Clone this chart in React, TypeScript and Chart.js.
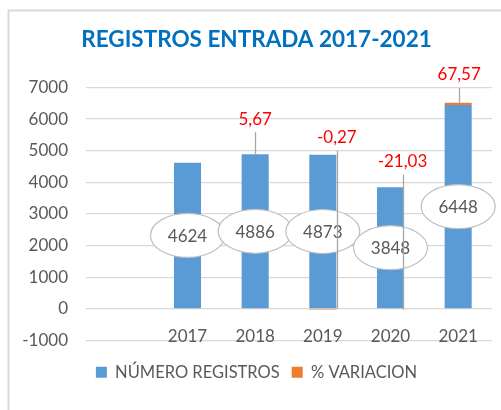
import { useEffect, useRef } from "react";
import { Chart, registerables } from "chart.js";

Chart.register(...registerables);

const CATEGORIES = ["", "2017", "2018", "2019", "2020", "2021"];
const REGISTROS = [null, 4624, 4886, 4873, 3848, 6448];
const VARIACION = [null, null, 5.67, -0.27, -21.03, 67.57];
const SERIES_NAMES = ["NÚMERO REGISTROS", "% VARIACION"];
const TITLE = "REGISTROS ENTRADA 2017-2021";
const Y_MIN = -1000;
const Y_MAX = 7000;
const Y_STEP = 1000;

// manual placement of the "% VARIACION" labels (pixel offsets from the segment anchor)
const VAR_LABEL_OFFSETS = [null, null, { dx: 0, dy: -36 }, { dx: 14, dy: -172 }, { dx: 12, dy: -149 }, { dx: 1, dy: -29 }];

const FONT = "Lato, 'Open Sans', sans-serif";
const TEXT = "#595959";
const BLUE = "#5B9BD5";
const ORANGE = "#ED7D31";
const GRID = "#D9D9D9";

const fmt = (v: number) => v.toFixed(2).replace(".", ",");

const decorations = {
  id: "decorations",
  beforeDraw(chart: any) {
    const ctx = chart.ctx;
    ctx.save();
    ctx.strokeStyle = "#D9D9D9";
    ctx.lineWidth = 2;
    ctx.beginPath();
    ctx.moveTo(8.5, chart.height + 5);
    ctx.lineTo(8.5, 10.5);
    ctx.lineTo(chart.width + 5, 10.5);
    ctx.stroke();
    ctx.restore();
  },
  afterDatasetsDraw(chart: any) {
    const ctx = chart.ctx;
    const xs = chart.scales.x;
    const ys = chart.scales.y;
    ctx.save();
    // category labels
    ctx.font = `17px ${FONT}`;
    ctx.fillStyle = TEXT;
    ctx.textAlign = "center";
    ctx.textBaseline = "alphabetic";
    CATEGORIES.forEach((c, i) => {
      if (c) ctx.fillText(c, xs.getPixelForValue(i), ys.bottom + 1);
    });
    // ellipse labels for registros
    const m0 = chart.getDatasetMeta(0);
    m0.data.forEach((el: any, i: number) => {
      const v = REGISTROS[i];
      if (v == null) return;
      const cx = el.x;
      const cy = (el.y + el.base) / 2;
      ctx.beginPath();
      ctx.ellipse(cx, cy, 37, 22, 0, 0, Math.PI * 2);
      ctx.fillStyle = "#FFFFFF";
      ctx.fill();
      ctx.strokeStyle = "#BFBFBF";
      ctx.lineWidth = 1.2;
      ctx.stroke();
      ctx.fillStyle = TEXT;
      ctx.textBaseline = "middle";
      ctx.fillText(String(v), cx, cy + 1);
    });
    // variation labels with leader lines
    const m1 = chart.getDatasetMeta(1);
    m1.data.forEach((el: any, i: number) => {
      const v = VARIACION[i];
      const off = VAR_LABEL_OFFSETS[i];
      if (v == null || !off) return;
      const ax = el.x;
      const ay = Math.min(el.y, el.base);
      const tx = ax + off.dx;
      const ty = ay + off.dy;
      ctx.strokeStyle = "#A6A6A6";
      ctx.lineWidth = 1.3;
      ctx.beginPath();
      ctx.moveTo(Math.round(tx) + 0.5, ty + 14);
      ctx.lineTo(Math.round(tx) + 0.5, ay);
      ctx.stroke();
      ctx.fillStyle = "#FF0000";
      ctx.textBaseline = "middle";
      ctx.fillText(fmt(v), tx, ty + 1);
    });
    ctx.restore();
  },
};

export default function App() {
  const ref = useRef<HTMLCanvasElement | null>(null);
  useEffect(() => {
    if (!ref.current) return;
    Chart.defaults.font.family = FONT;
    const chart = new Chart(ref.current, {
      type: "bar",
      data: {
        labels: CATEGORIES,
        datasets: [
          { label: SERIES_NAMES[0], data: REGISTROS as any, backgroundColor: BLUE, borderWidth: 0 },
          { label: SERIES_NAMES[1], data: VARIACION as any, backgroundColor: ORANGE, borderWidth: 0 },
        ],
      },
      options: {
        responsive: false,
        animation: false,
        devicePixelRatio: 1,
        datasets: { bar: { barPercentage: 0.4, categoryPercentage: 1 } },
        layout: { padding: { left: 21, right: 9, top: 10, bottom: 19.5 } },
        scales: {
          x: { stacked: true, display: false },
          y: {
            stacked: true,
            min: Y_MIN,
            max: Y_MAX,
            ticks: {
              stepSize: Y_STEP,
              color: TEXT,
              font: { size: 17, family: FONT },
              padding: 18,
              callback: (v: any) => String(v),
            },
            grid: { color: GRID, drawTicks: false, lineWidth: 1.3 },
            border: { display: false },
            afterFit: (s: any) => {
              s.width = 65;
            },
          },
        },
        plugins: {
          tooltip: { enabled: false },
          title: {
            display: true,
            text: TITLE,
            color: "#0070C0",
            font: { size: 22.5, weight: "bold", family: FONT },
            padding: { top: 16.5, bottom: 34 },
          },
          legend: {
            position: "bottom",
            title: { display: true, text: "", padding: { top: 11.5, bottom: 0 }, font: { size: 0 } },
            labels: {
              boxWidth: 11,
              boxHeight: 11,
              padding: 12,
              color: TEXT,
              font: { size: 16.5, family: FONT },
            },
          },
        },
      },
      plugins: [decorations],
    });
    return () => chart.destroy();
  }, []);
  return (
    <div style={{ position: "absolute", left: 0, top: 0, width: 501, height: 410 }}>
      <canvas ref={ref} width={501} height={410} />
    </div>
  );
}
